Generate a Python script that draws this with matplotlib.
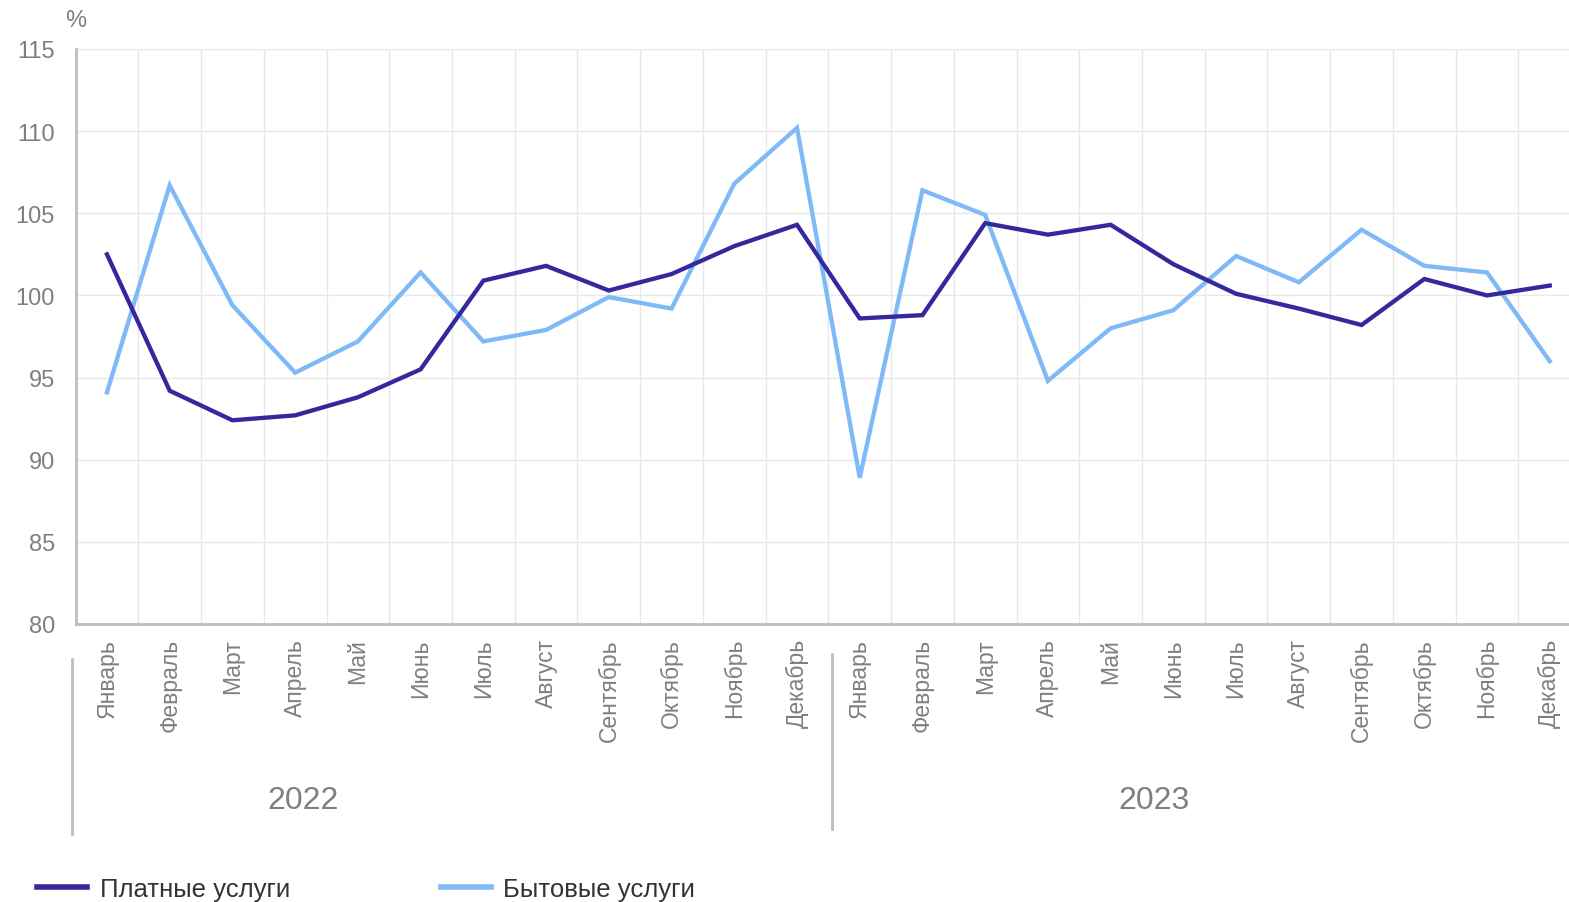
import matplotlib
matplotlib.use("Agg")
import matplotlib.pyplot as plt
from matplotlib.lines import Line2D

plt.rcParams['font.family'] = ['Liberation Sans', 'DejaVu Sans']

months = ["Январь", "Февраль", "Март", "Апрель", "Май", "Июнь", "Июль", "Август",
          "Сентябрь", "Октябрь", "Ноябрь", "Декабрь"]
years = ["2022", "2023"]
categories = months * 2

paid = [102.5, 94.2, 92.4, 92.7, 93.8, 95.5, 100.9, 101.8, 100.3, 101.3, 103.0, 104.3,
        98.6, 98.8, 104.4, 103.7, 104.3, 101.9, 100.1, 99.2, 98.2, 101.0, 100.0, 100.6]
household = [94.1, 106.7, 99.4, 95.3, 97.2, 101.4, 97.2, 97.9, 99.9, 99.2, 106.8, 110.2,
             88.9, 106.4, 104.9, 94.8, 98.0, 99.1, 102.4, 100.8, 104.0, 101.8, 101.4, 96.0]
series_names = ["Платные услуги", "Бытовые услуги"]
yticks = [80, 85, 90, 95, 100, 105, 110, 115]

W, H = 1569, 903
fig = plt.figure(figsize=(W / 100, H / 100), dpi=100)
left = 75.6 / W
width = (24 * 62.73) / W
bottom = (H - 625) / H
top = (H - 50) / H
ax = fig.add_axes([left, bottom, width, top - bottom])

c_paid = "#35289C"
c_house = "#7FB9F8"
x = list(range(len(categories)))
ax.plot(x, paid, color=c_paid, lw=3.1, solid_joinstyle='miter', zorder=3)
ax.plot(x, household, color=c_house, lw=3.1, solid_joinstyle='miter', zorder=2)

ax.set_xlim(-0.5, 23.5)
ax.set_ylim(80, 115)
ax.set_yticks(yticks)
ax.set_yticklabels([str(v) for v in yticks], fontsize=17, color="#7f7f7f")
ax.set_xticks([i + 0.5 for i in range(-1, 24)], minor=False)
ax.set_xticklabels([])
ax.tick_params(axis='both', length=0)
ax.tick_params(axis='y', pad=15)
ax.grid(True, color="#e8e8e8", lw=1)
ax.set_axisbelow(True)
for s in ["top", "right"]:
    ax.spines[s].set_visible(False)
for s in ["left", "bottom"]:
    ax.spines[s].set_color("#bdbdbd")
    ax.spines[s].set_linewidth(2)

trans = ax.get_xaxis_transform()
label_y = 1 - (639 - 50) / (625 - 50)
for i, lab in enumerate(categories):
    ax.text(i, label_y, lab, rotation=90, ha='center', va='top', fontsize=16.5,
            color="#7f7f7f", transform=trans, clip_on=False)

def fy(py):
    return (625 - py) / (625 - 50)

for xi, y0, y1 in [(-0.557, 660, 835), (11.56, 655, 830)]:
    ax.add_line(Line2D([xi, xi], [fy(y0), fy(y1)], color="#bdbdbd", lw=2,
                       transform=trans, clip_on=False))

for xi, yr in zip([3.125, 16.69], years):
    ax.text(xi, fy(801), yr, ha='center', va='center', fontsize=23, color="#7f7f7f",
            transform=trans, clip_on=False)

fig.text(76 / W, 1 - 21 / H, "%", ha='center', va='center', fontsize=17, color="#7f7f7f")

handles = [Line2D([], [], color=c_paid, lw=4), Line2D([], [], color=c_house, lw=4)]
fig.legend(handles, series_names, loc='center left', bbox_to_anchor=(37 / W, 1 - 890 / H),
           ncol=2, frameon=False, fontsize=18.5, handlelength=1.95, handletextpad=0.5,
           columnspacing=5.85, borderpad=0, borderaxespad=0, labelcolor="#333333")

fig.savefig("out.png", dpi=100)
